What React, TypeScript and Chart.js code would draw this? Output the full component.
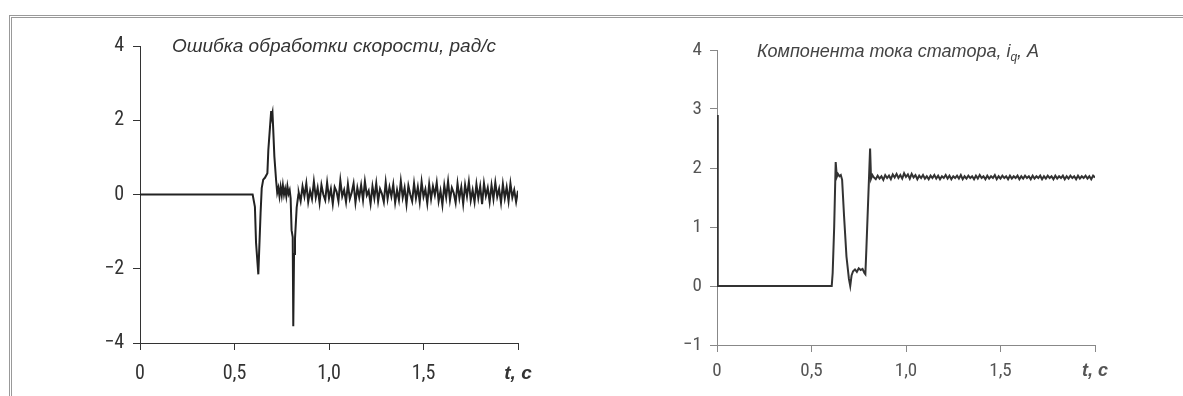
import React, { useEffect, useRef } from "react";
import { Chart, registerables } from "chart.js";

Chart.register(...registerables);

// ---------- Data ----------
const xTicks = [0, 0.5, 1.0, 1.5, 2.0];
const xTickLabels = ["0", "0,5", "1,0", "1,5", "t, c"];
const leftYTicks = [-4, -2, 0, 2, 4];
const rightYTicks = [-1, 0, 1, 2, 3, 4];

const leftTitle = "Ошибка обработки скорости, рад/с";
const rightTitleMain = "Компонента тока статора, i";
const rightTitleSub = "q";
const rightTitleEnd = ", A";

// Speed error: transient part (t, value)
const errTransientT = [0, 0.596, 0.608, 0.614, 0.626, 0.638, 0.644, 0.652, 0.661, 0.674, 0.679, 0.688, 0.694, 0.697, 0.701, 0.705, 0.711, 0.72, 0.726, 0.732, 0.738, 0.744, 0.75, 0.756, 0.762, 0.768, 0.774, 0.78, 0.786, 0.792, 0.797, 0.802, 0.808, 0.811, 0.815, 0.82, 0.829, 0.838];
const errTransientV = [0, 0, -0.33, -1.3, -2.15, -0.5, 0.17, 0.4, 0.45, 0.57, 1.2, 1.83, 2.25, 2.1, 2.2, 1.74, 1.02, 0.39, 0.05, 0.18, -0.05, 0.2, -0.02, 0.25, 0.0, 0.15, -0.05, 0.22, 0.02, 0.12, -0.1, -0.96, -1.15, -3.55, -1.6, -1.2, -0.35, 0.0];

// Speed error: steady-state noise, sampled every 0.01 s from 0.84 s
const errNoiseStart = 0.84;
const errNoiseStep = 0.01;
const errNoiseV = [0.05, -0.18, 0.22, -0.05, 0.3, -0.2, 0.1, -0.12, 0.35, -0.08, 0.18, -0.22, 0.26, 0.0, -0.15, 0.32, -0.1, 0.15, -0.25, 0.2,
  0.08, -0.18, 0.38, -0.05, 0.12, -0.2, 0.28, -0.12, 0.05, 0.3, -0.22, 0.18, -0.08, 0.25, -0.15, 0.35, -0.02, 0.1, -0.25, 0.22,
  -0.1, 0.3, -0.18, 0.15, 0.02, -0.2, 0.33, -0.12, 0.2, -0.05, 0.27, -0.22, 0.12, -0.15, 0.36, -0.08, 0.18, -0.26, 0.24, 0.0,
  -0.18, 0.3, -0.1, 0.2, -0.2, 0.34, -0.06, 0.14, -0.24, 0.28, -0.12, 0.22, -0.02, 0.32, -0.18, 0.1, -0.28, 0.25, -0.08, 0.35,
  -0.15, 0.18, 0.04, -0.22, 0.3, -0.1, 0.2, -0.25, 0.26, -0.05, 0.34, -0.16, 0.12, -0.2, 0.28, -0.1, 0.22, -0.26, 0.3, -0.04,
  0.18, -0.2, 0.25, -0.12, 0.32, -0.06, 0.15, -0.22, 0.28, -0.1, 0.2, -0.18, 0.3, -0.08, 0.12, -0.2, 0.1];

// Stator current iq: transient part
const iqTransientT = [0, 0.003, 0.005, 0.607, 0.612, 0.62, 0.628, 0.634, 0.64, 0.648, 0.655, 0.662, 0.672, 0.685, 0.698, 0.705, 0.712, 0.72, 0.73, 0.74, 0.75, 0.76, 0.77, 0.78, 0.785, 0.79, 0.81, 0.815, 0.822, 0.83];
const iqTransientV = [2.9, 1.2, 0, 0, 0.22, 1.0, 2.1, 1.85, 1.9, 1.86, 1.88, 1.8, 1.2, 0.5, 0.12, 0.0, 0.18, 0.25, 0.28, 0.24, 0.3, 0.27, 0.29, 0.22, 0.2, 0.6, 2.33, 1.82, 1.88, 1.84];

// Stator current iq: steady-state noise, every 0.01 s from 0.84 s
const iqNoiseStart = 0.84;
const iqNoiseStep = 0.01;
const iqNoiseV = [1.81, 1.87, 1.82, 1.86, 1.8, 1.88, 1.83, 1.87, 1.81, 1.89, 1.84, 1.9, 1.83, 1.88, 1.82, 1.91, 1.85, 1.89, 1.82, 1.9,
  1.84, 1.88, 1.81, 1.87, 1.83, 1.88, 1.82, 1.86, 1.81, 1.87, 1.83, 1.88, 1.82, 1.87, 1.81, 1.86, 1.83, 1.88, 1.82, 1.87,
  1.81, 1.86, 1.83, 1.87, 1.82, 1.88, 1.81, 1.86, 1.82, 1.87, 1.83, 1.86, 1.81, 1.87, 1.82, 1.88, 1.83, 1.86, 1.81, 1.87,
  1.82, 1.86, 1.83, 1.88, 1.81, 1.86, 1.82, 1.87, 1.83, 1.86, 1.81, 1.87, 1.82, 1.86, 1.83, 1.87, 1.81, 1.86, 1.82, 1.87,
  1.83, 1.86, 1.81, 1.87, 1.82, 1.86, 1.83, 1.87, 1.81, 1.86, 1.82, 1.87, 1.83, 1.86, 1.81, 1.87, 1.82, 1.86, 1.83, 1.87,
  1.81, 1.86, 1.82, 1.87, 1.83, 1.86, 1.81, 1.87, 1.82, 1.86, 1.83, 1.87, 1.82, 1.86, 1.81, 1.87, 1.84];

const TICK_FONT = '"Liberation Sans Narrow", "Roboto Condensed", "Liberation Sans", Arial, sans-serif';
const TITLE_FONT = '"Liberation Sans", Arial, sans-serif';

function buildPoints(ts: number[], vs: number[], start: number, step: number, noise: number[]) {
  const pts = ts.map((t, i) => ({ x: t, y: vs[i] }));
  noise.forEach((v, i) => pts.push({ x: +(start + i * step).toFixed(3), y: v }));
  return pts;
}

type Cfg = {
  points: { x: number; y: number }[];
  yMin: number;
  yMax: number;
  yTicks: number[];
  yWidth: number;
  xHeight: number;
  padTop: number;
  padRight: number;
  axisColor: string;
  textColor: string;
  lineColor: string;
  lineWidth: number;
  yPad: number;
  xPad: number;
  fontSize: number;
  drawTitle: (ctx: CanvasRenderingContext2D, area: any) => void;
};

function makeChart(canvas: HTMLCanvasElement, c: Cfg) {
  const titlePlugin = {
    id: "customTitle",
    afterDraw(chart: any) {
      const ctx = chart.ctx as CanvasRenderingContext2D;
      ctx.save();
      c.drawTitle(ctx, chart.chartArea);
      ctx.restore();
    },
  };
  const tickFont = (ctx: any) => {
    const isLast = ctx.tick && ctx.tick.value === 2;
    return isLast
      ? { family: TITLE_FONT, size: c.fontSize - 1, weight: "bold", style: "italic" }
      : { family: TICK_FONT, size: c.fontSize };
  };
  return new Chart(canvas, {
    type: "line",
    data: {
      datasets: [
        {
          data: c.points,
          borderColor: c.lineColor,
          borderWidth: c.lineWidth,
          pointRadius: 0,
          fill: false,
          tension: 0,
        },
      ],
    },
    options: {
      animation: false,
      responsive: false,
      maintainAspectRatio: false,
      layout: { padding: { top: c.padTop, right: c.padRight, left: 0, bottom: 0 } },
      plugins: { legend: { display: false }, tooltip: { enabled: false }, title: { display: false } },
      scales: {
        x: {
          type: "linear",
          min: 0,
          max: 2,
          afterFit: (s: any) => { s.height = c.xHeight; },
          afterBuildTicks: (s: any) => { s.ticks = xTicks.map((v) => ({ value: v })); },
          ticks: {
            autoSkip: false,
            maxRotation: 0,
            padding: c.xPad,
            color: c.textColor,
            font: tickFont as any,
            callback: (v: any) => {
              const i = xTicks.indexOf(Number(v));
              return i >= 0 ? xTickLabels[i] : "";
            },
          },
          grid: { display: true, drawOnChartArea: false, drawTicks: true, tickLength: 7, color: c.axisColor, lineWidth: 1 },
          border: { display: true, color: c.axisColor, width: 1 },
        },
        y: {
          type: "linear",
          min: c.yMin,
          max: c.yMax,
          afterFit: (s: any) => { s.width = c.yWidth; },
          afterBuildTicks: (s: any) => { s.ticks = c.yTicks.map((v) => ({ value: v })); },
          ticks: {
            autoSkip: false,
            padding: c.yPad,
            color: c.textColor,
            font: { family: TICK_FONT, size: c.fontSize },
            callback: (v: any) => String(v).replace("-", "\u2212"),
          },
          grid: { display: true, drawOnChartArea: false, drawTicks: true, tickLength: 7, color: c.axisColor, lineWidth: 1 },
          border: { display: true, color: c.axisColor, width: 1 },
        },
      },
    },
    plugins: [titlePlugin],
  } as any);
}

export default function App() {
  const leftRef = useRef<HTMLCanvasElement>(null);
  const rightRef = useRef<HTMLCanvasElement>(null);

  useEffect(() => {
    const left = makeChart(leftRef.current!, {
      points: buildPoints(errTransientT, errTransientV, errNoiseStart, errNoiseStep, errNoiseV),
      yMin: -4,
      yMax: 4,
      yTicks: leftYTicks,
      yWidth: 140,
      xHeight: 53,
      padTop: 46,
      padRight: 72,
      axisColor: "#333",
      textColor: "#333",
      lineColor: "#222",
      lineWidth: 2,
      yPad: 9,
      xPad: 12,
      fontSize: 20,
      drawTitle: (ctx, area) => {
        ctx.font = `italic 19px ${TITLE_FONT}`;
        ctx.fillStyle = "#333";
        ctx.textBaseline = "middle";
        ctx.textAlign = "left";
        ctx.fillText(leftTitle, area.left + 32, area.top + 1);
      },
    });
    const right = makeChart(rightRef.current!, {
      points: buildPoints(iqTransientT, iqTransientV, iqNoiseStart, iqNoiseStep, iqNoiseV),
      yMin: -1,
      yMax: 4,
      yTicks: rightYTicks,
      yWidth: 127,
      xHeight: 51,
      padTop: 50,
      padRight: 88,
      axisColor: "#888",
      textColor: "#555",
      lineColor: "#333",
      lineWidth: 2,
      yPad: 8,
      xPad: 8,
      fontSize: 19,
      drawTitle: (ctx, area) => {
        ctx.fillStyle = "#444";
        ctx.textBaseline = "middle";
        ctx.textAlign = "left";
        let x = area.left + 40;
        const y = area.top + 2;
        ctx.font = `italic 18px ${TITLE_FONT}`;
        ctx.fillText(rightTitleMain, x, y);
        x += ctx.measureText(rightTitleMain).width;
        ctx.font = `italic 12px ${TITLE_FONT}`;
        ctx.fillText(rightTitleSub, x, y + 6);
        x += ctx.measureText(rightTitleSub).width;
        ctx.font = `italic 18px ${TITLE_FONT}`;
        ctx.fillText(rightTitleEnd, x, y);
      },
    });
    return () => {
      left.destroy();
      right.destroy();
    };
  }, []);

  return (
    <div style={{ position: "absolute", left: 0, top: 0, width: 1183, height: 396, background: "#fff", overflow: "hidden" }}>
      <div style={{ position: "absolute", left: 9, top: 15, width: 1180, height: 390, borderTop: "3px double #999", borderLeft: "3px double #999" }} />
      <canvas ref={leftRef} width={590} height={396} style={{ position: "absolute", left: 0, top: 0, width: 590, height: 396 }} />
      <canvas ref={rightRef} width={593} height={396} style={{ position: "absolute", left: 590, top: 0, width: 593, height: 396 }} />
    </div>
  );
}
